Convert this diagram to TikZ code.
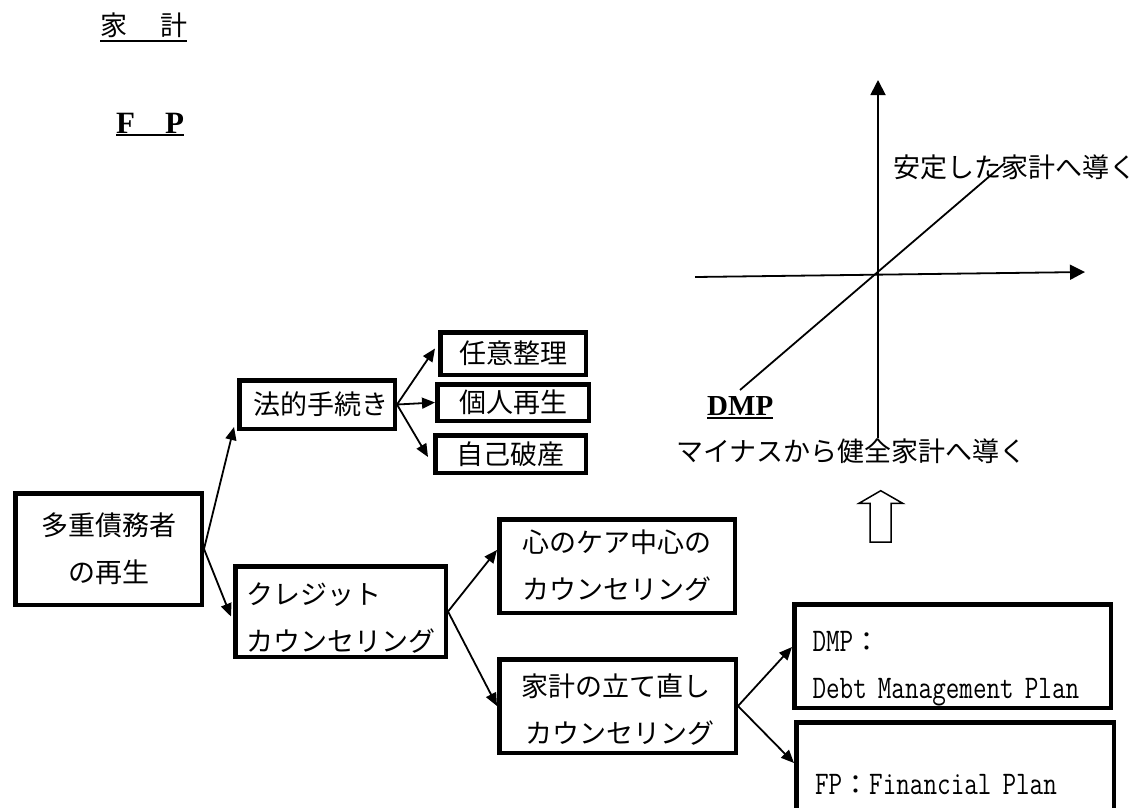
\documentclass[tikz,border=0pt]{standalone}
\usepackage{fontspec}
\setmainfont{Noto Sans CJK JP}
\newfontfamily\cjk{Noto Sans CJK JP}
\newfontfamily\serifb{Liberation Serif}
\newfontfamily\narrowmono[FakeStretch=0.8]{Latin Modern Mono}
\usetikzlibrary{arrows.meta,calc}
\newcommand\myul[2]{\setbox0\hbox{#2}\rlap{\rule[-#1]{\wd0}{2.5pt}}\box0}
\begin{document}
\begin{tikzpicture}[x=1pt,y=-1pt,
  box/.style={draw,line width=4.5pt,inner sep=0pt,font=\fontsize{27}{47}\selectfont},
  mono/.style={font=\fontsize{33}{47}\narrowmono,text width=280pt,align=left},
  conn/.style={line width=1.8pt,-{Triangle[length=13pt,width=11pt]}},
  axis/.style={line width=1.8pt,-{Triangle[length=15pt,width=15pt]}},
  lbl/.style={inner sep=0pt,anchor=base west,font=\fontsize{27}{32}\selectfont}]
\useasboundingbox (0,0) rectangle (1142,807);
% top-left labels
\node[lbl] (L1) at (100,35) {\myul{7.25pt}{家\hspace{33pt}計}};
\node[inner sep=0pt,anchor=base west,font=\fontsize{31}{32}\serifb\bfseries] (L2) at (116,133) {\myul{3.25pt}{F\hspace{30pt}P}};
% tree boxes
\node[box,minimum width=186.5pt,minimum height=111.5pt,align=center] (A) at (108.5,549) {多重債務者\\の再生};
\node[box,minimum width=155.5pt,minimum height=48.5pt] (B) at (317,404.5) {\hspace{8pt}法的手続き};
\node[box,minimum width=210.5pt,minimum height=90.5pt,align=left] (C) at (340.5,611.5) {\rule{0pt}{34pt}クレジット\\カウンセリング};
\node[box,minimum width=145.5pt,minimum height=42.5pt] (D) at (513,353.5) {任意整理};
\node[box,minimum width=151.5pt,minimum height=36.5pt] (E) at (513,402.5) {個人再生};
\node[box,minimum width=150.5pt,minimum height=37.5pt] (F) at (510.5,454) {自己破産};
\node[box,minimum width=235.5pt,minimum height=93.5pt,align=left] (G) at (617,566) {心のケア中心の\\カウンセリング};
\node[box,minimum width=236.5pt,minimum height=93.5pt,align=left] (H) at (617.5,706) {\rule{0pt}{30pt}家計の立て直し\\\hspace{4pt}カウンセリング};
\node[box,mono,minimum width=316.5pt,minimum height=103.5pt] (I) at (952.5,656) {\rule{0pt}{46pt}DMP{\cjk\fontsize{27}{47}\selectfont ：}\\Debt Management Plan};
\node[box,mono,minimum width=317.5pt,minimum height=115.5pt] (J) at (955,780) {\rule{0pt}{30pt}FP{\cjk\fontsize{27}{47}\selectfont ：}Financial Plan};
% tree connectors
\draw[conn] (A.east) -- ([xshift=-3pt,yshift=4pt]B.south west);
\draw[conn] (A.east) -- ([xshift=-2pt,yshift=-5pt]C.west);
\draw[conn] (B.east) -- ([xshift=-3pt,yshift=5pt]D.west);
\draw[conn] (B.east) -- (E.west);
\draw[conn] (B.east) -- ([xshift=-5pt,yshift=-3pt]F.west);
\draw[conn] (C.east) -- ([yshift=16pt]G.west);
\draw[conn] (C.east) -- (H.west);
\draw[conn] (H.east) -- ([yshift=9pt]I.west);
\draw[conn] (H.east) -- ([yshift=17pt]J.west);
% axes
\coordinate (vb) at (878,438); \coordinate (vt) at (878,80);
\coordinate (hl) at (695,277); \coordinate (hr) at (1085,272);
\coordinate (dl) at (740,390); \coordinate (dr) at (1005,163);
\draw[axis] (vb) -- (vt);
\draw[axis] (hl) -- (hr);
\draw[line width=1.8pt] (dl) -- (dr);
\node[lbl] (K1) at (893,177) {安定した家計へ導く};
\node[lbl] (K2) at (676,461) {マイナスから健全家計へ導く};
\node[inner sep=0pt,anchor=base west,font=\fontsize{29}{32}\serifb\bfseries] (K3) at (707,415) {\myul{4.25pt}{DMP}};
% hollow up arrow
\draw[line width=1.5pt,line join=miter] (870,542) -- (870,503.3) -- (859,503.3) -- (880.7,490.7) -- (902.7,503.3) -- (891,503.3) -- (891,542) -- cycle;
\end{tikzpicture}
\end{document}
